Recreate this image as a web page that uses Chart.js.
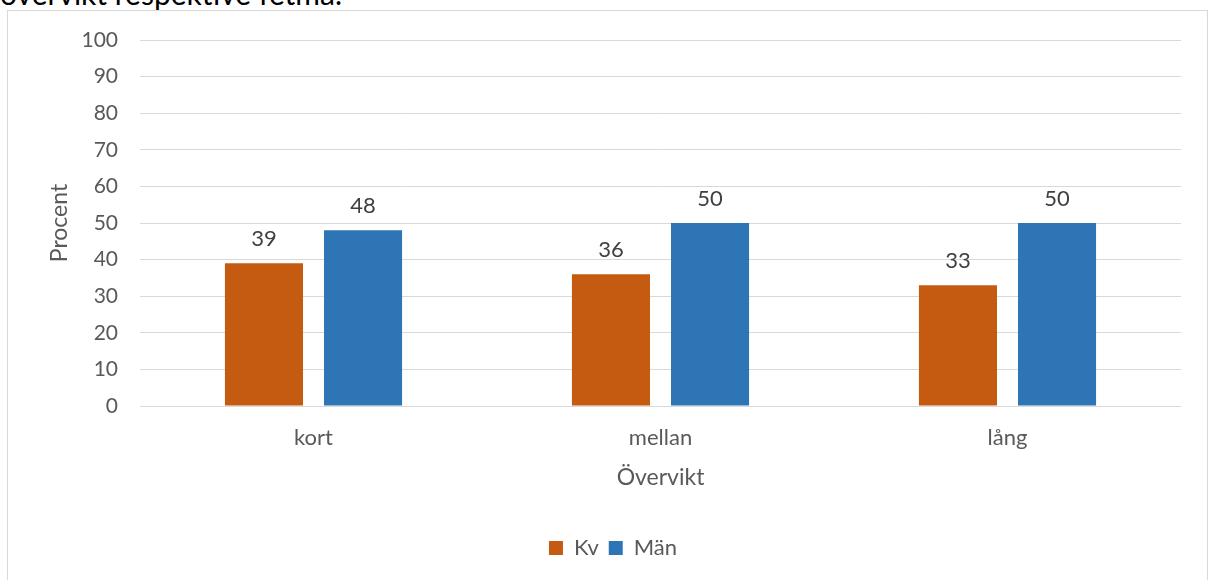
<!DOCTYPE html>
<html>
<head>
<meta charset="utf-8">
<script src="https://cdn.jsdelivr.net/npm/chart.js@4"></script>
<style>
  html, body { margin: 0; padding: 0; background: #fff; width: 1210px; height: 580px; overflow: hidden; }
  #caption { position: absolute; left: 0px; top: -22px; font-family: "Lato", "Open Sans", sans-serif; font-size: 30px; line-height: 30px; color: #000; white-space: nowrap; }
  #frame { position: absolute; left: 7px; top: 10px; width: 1201px; height: 600px; border: 1px solid #D9D9D9; box-sizing: border-box; }
  #wrap { position: absolute; left: 0; top: 0; width: 1210px; height: 580px; }
</style>
</head>
<body>
<div id="caption">övervikt respektive fetma.</div>
<div id="frame"></div>
<div id="wrap"><canvas id="c" width="1210" height="580"></canvas></div>
<script>
const categories = ["kort", "mellan", "lång"];
const kvValues = [39, 36, 33];
const manValues = [48, 50, 50];
const seriesNames = ["Kv", "Män"];
const yTicks = [0, 10, 20, 30, 40, 50, 60, 70, 80, 90, 100];
const xTitle = "Övervikt";
const yTitle = "Procent";

const FONT = "'Lato', 'Open Sans', sans-serif";

const valueLabels = {
  id: 'valueLabels',
  afterDatasetsDraw(chart) {
    const ctx = chart.ctx;
    ctx.save();
    ctx.font = "22px " + FONT;
    ctx.fillStyle = "#404040";
    ctx.textAlign = "center";
    ctx.textBaseline = "middle";
    chart.data.datasets.forEach((ds, i) => {
      chart.getDatasetMeta(i).data.forEach((bar, j) => {
        ctx.fillText(String(ds.data[j]), bar.x, bar.y - 24);
      });
    });
    ctx.restore();
  }
};

new Chart(document.getElementById('c'), {
  type: 'bar',
  data: {
    labels: categories,
    datasets: [
      { label: seriesNames[0], data: kvValues, backgroundColor: '#C55A11', borderWidth: 0 },
      { label: seriesNames[1], data: manValues, backgroundColor: '#2E75B6', borderWidth: 0 }
    ]
  },
  options: {
    responsive: false,
    animation: false,
    devicePixelRatio: 1,
    categoryPercentage: 0.571,
    barPercentage: 0.788,
    layout: { padding: { top: 40, left: 45, right: 29, bottom: 11 } },
    plugins: {
      tooltip: { enabled: false },
      legend: {
        position: 'bottom',
        labels: {
          font: { family: FONT, size: 22 },
          color: '#595959',
          boxWidth: 14,
          boxHeight: 14,
          padding: 10
        }
      }
    },
    scales: {
      x: {
        grid: { display: false, drawTicks: false },
        border: { display: false },
        ticks: { font: { family: FONT, size: 22 }, color: '#595959', padding: 19 },
        title: { display: true, text: xTitle, font: { family: FONT, size: 23 }, color: '#595959', padding: { top: 0, bottom: 36 } },
        afterFit(scale) { scale.height = 121; }
      },
      y: {
        min: 0, max: 100,
        afterBuildTicks(scale) { scale.ticks = yTicks.map(v => ({ value: v })); },
        grid: { color: '#D9D9D9', lineWidth: 1, drawTicks: false },
        border: { display: false },
        ticks: { font: { family: FONT, size: 21 }, color: '#595959', padding: 22 },
        title: { display: true, text: yTitle, font: { family: FONT, size: 23 }, color: '#595959', padding: { top: 1, bottom: 0 } },
        afterFit(scale) { scale.width = 95; }
      }
    }
  },
  plugins: [valueLabels]
});
</script>
</body>
</html>
